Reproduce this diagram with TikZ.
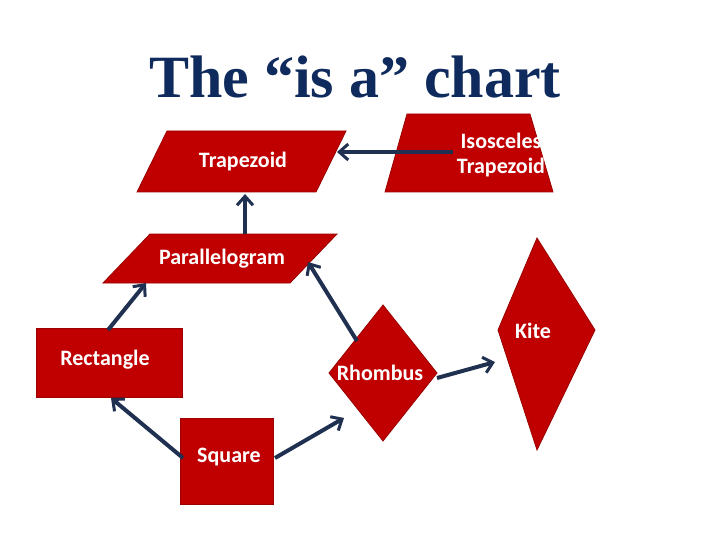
\documentclass[tikz,border=0pt]{standalone}
\usepackage{fontspec}
\setmainfont{Carlito}
\newfontfamily\titlefont{Liberation Serif}
\usetikzlibrary{arrows.meta}
\definecolor{shapered}{HTML}{C00000}
\definecolor{navy}{HTML}{1F3050}
\definecolor{titlenavy}{HTML}{0F2A5C}
\begin{document}
\begin{tikzpicture}[x=1pt,y=-1pt,
  shp/.style={fill=shapered,draw=shapered!80!black,line width=0.8pt},
  lbl/.style={text=white,font=\bfseries\fontsize{22}{25}\selectfont,align=center},
  arr/.style={draw=navy,line width=4pt,-{Straight Barb[length=9pt,width=16pt,line width=3pt]}}]
\useasboundingbox (0,0) rectangle (720,540);
\node[text=titlenavy,font=\titlefont\bfseries\fontsize{60}{66}\selectfont] (title) at (355,77) {The “is a” chart};
% shapes
\draw[shp] (137,192) -- (167,131) -- (346,131) -- (316,192) -- cycle;
\draw[shp] (385,192) -- (407,114) -- (530,114) -- (553,192) -- cycle;
\draw[shp] (103,283) -- (150,234) -- (337,234) -- (290,283) -- cycle;
\draw[shp] (36,328) rectangle (182,397);
\draw[shp] (180,418) rectangle (273,504);
\draw[shp] (383,305) -- (437,373) -- (383,441) -- (329,373) -- cycle;
\draw[shp] (537,238) -- (595,330) -- (537,450) -- (498,330) -- cycle;
% labels
\node[lbl] (trap) at (243,162) {Trapezoid};
\node[lbl] (iso) at (501,155) {Isosceles\\Trapezoid};
\node[lbl] (para) at (222,259) {Parallelogram};
\node[lbl] (rect) at (105,360) {Rectangle};
\node[lbl] (sq) at (229,457) {Square};
\node[lbl] (rh) at (380,373) {Rhombus};
\node[lbl] (kite) at (533,331) {Kite};
% arrow anchors
\coordinate (a1) at (453,152); \coordinate (b1) at (337,152);
\coordinate (a2) at (245,234); \coordinate (b2) at (245,194);
\coordinate (a3) at (108,330); \coordinate (b3) at (146,283);
\coordinate (a4) at (357,341); \coordinate (b4) at (308,262);
\coordinate (a5) at (183,458); \coordinate (b5) at (111,398);
\coordinate (a6) at (275,458); \coordinate (b6) at (344,418);
\coordinate (a7) at (437,378); \coordinate (b7) at (495,362);
\draw[arr] (a1) -- (b1);
\draw[arr] (a2) -- (b2);
\draw[arr] (a3) -- (b3);
\draw[arr] (a4) -- (b4);
\draw[arr] (a5) -- (b5);
\draw[arr] (a6) -- (b6);
\draw[arr] (a7) -- (b7);
\end{tikzpicture}
\end{document}
